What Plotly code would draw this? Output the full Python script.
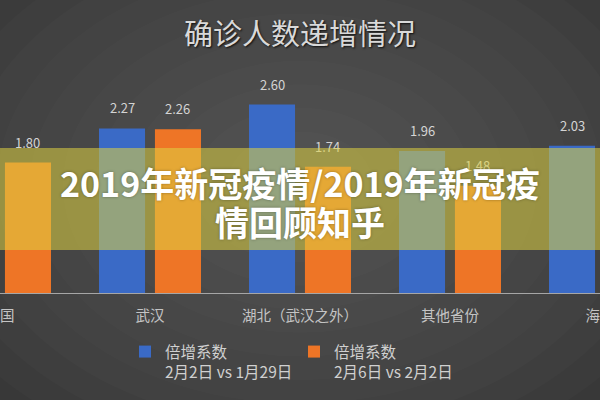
import plotly.graph_objects as go

# ---- data ----
categories = ["全国", "武汉", "湖北（武汉之外）", "其他省份", "海外"]
series1_name = "倍增系数<br>2月2日 vs 1月29日"
series2_name = "倍增系数<br>2月6日 vs 2月2日"
series1_values = [2.15, 2.27, 2.60, 1.96, 2.03]
series2_values = [1.80, 2.26, 1.74, 1.48, 1.85]
title_text = "确诊人数递增情况"
banner_lines = ["2019年新冠疫情/2019年新冠疫", "情回顾知乎"]

# ---- style ----
FONT = "Noto Sans CJK SC, Noto Sans, sans-serif"
BLUE = "#3A6AC6"
ORANGE = "#EE7526"
BAR_W = 0.307
OFF1 = -0.34
OFF2 = 0.033

W, H = 600, 400
T, B = 50, 107
plot_h = H - T - B
px_per_unit = 72.5
y_max = plot_h / px_per_unit


def py(px):
    """pixel row (from top) -> paper y"""
    return (H - B - px) / plot_h


fig = go.Figure()
fig.add_trace(go.Bar(x=categories, y=series1_values, name=series1_name,
                     width=BAR_W, offset=OFF1, marker=dict(color=BLUE, line=dict(width=0))))
fig.add_trace(go.Bar(x=categories, y=series2_values, name=series2_name,
                     width=BAR_W, offset=OFF2, marker=dict(color=ORANGE, line=dict(width=0))))

annotations = []
for i, v in enumerate(series1_values):
    annotations.append(dict(x=i + OFF1 + BAR_W / 2, y=v, xref="x", yref="y", text=f"{v:.2f}",
                            showarrow=False, yanchor="bottom", yshift=9,
                            font=dict(family=FONT, size=13, color="#d4d4d4")))
for i, v in enumerate(series2_values):
    annotations.append(dict(x=i + OFF2 + BAR_W / 2, y=v, xref="x", yref="y", text=f"{v:.2f}",
                            showarrow=False, yanchor="bottom", yshift=9,
                            font=dict(family=FONT, size=13, color="#d4d4d4")))

# translucent banner on top of everything
annotations.append(dict(x=0.5, xref="paper", y=py(199), yref="paper",
                        text=" ", showarrow=False, xanchor="center", yanchor="middle",
                        width=W + 4, height=102, borderpad=0, borderwidth=0,
                        bgcolor="rgba(222,210,66,0.55)"))
for line, cy in zip(banner_lines, [182, 221]):
    annotations.append(dict(x=0.5, xref="paper", y=py(cy), yref="paper",
                            text=line, showarrow=False, xanchor="center", yanchor="middle",
                            font=dict(family=FONT, size=34, color="#ffffff", weight="bold",
                                      shadow="0px 0px 3px rgba(0,0,0,0.35)")))

# radial-ish background gradient
shapes = []
cx_px, cy_px = 300, 185
N = 14
for k in range(N):
    f = 1 - k / N
    rx = 460 * f + 40
    ry = 330 * f + 30
    shapes.append(dict(type="circle", xref="paper", yref="paper", layer="below",
                       x0=(cx_px - rx) / W, x1=(cx_px + rx) / W,
                       y0=py(cy_px + ry), y1=py(cy_px - ry),
                       fillcolor="rgba(255,255,255,0.016)", line=dict(width=0)))

fig.update_layout(
    width=W, height=H,
    margin=dict(l=0, r=0, t=T, b=B, autoexpand=False),
    paper_bgcolor="#2f2f2f",
    plot_bgcolor="rgba(0,0,0,0)",
    title=dict(text=title_text, x=0.5, xanchor="center", y=1 - 35 / H, yref="container",
               yanchor="middle",
               font=dict(family=FONT, size=29, color="#d9d9d9",
                         shadow="1px 1px 2px rgba(0,0,0,0.8)")),
    barmode="group",
    showlegend=True,
    legend=dict(orientation="h", x=0.49, xanchor="center", y=py(335),
                yanchor="top", valign="top", bgcolor="rgba(0,0,0,0)",
                font=dict(family=FONT, size=15.5, color="#d0d0d0"),
                itemwidth=30, entrywidth=124),
    xaxis=dict(type="category", range=[0, 4], showgrid=False, zeroline=False,
               showline=True, linecolor="#a6a6a6", linewidth=1, ticks="",
               automargin=False,
               tickfont=dict(family=FONT, size=14.5, color="#c4c4c4"),
               ticklabelstandoff=10, fixedrange=True),
    yaxis=dict(range=[0, y_max], visible=False, fixedrange=True, automargin=False),
    annotations=annotations,
    shapes=shapes,
)

fig.write_html("out.html",
               config={"displayModeBar": False},
               post_script="document.body.style.margin='0';document.body.style.background='#2f2f2f';")
